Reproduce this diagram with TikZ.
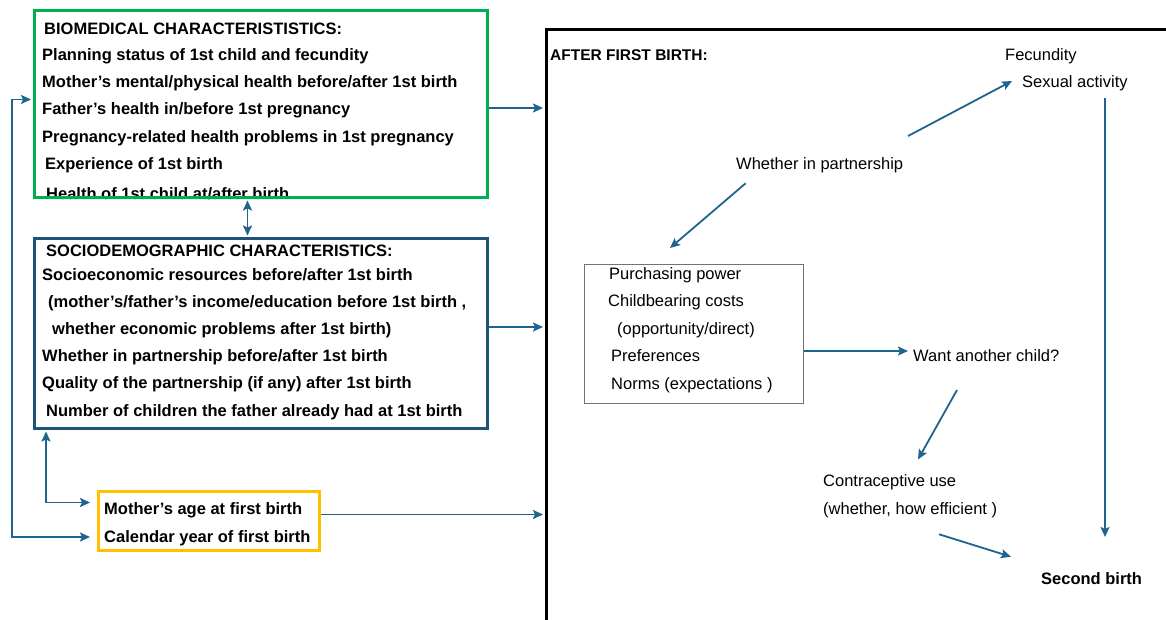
\documentclass[tikz,border=0pt]{standalone}
\usepackage{fontspec}
\setmainfont{Liberation Sans}
\usetikzlibrary{arrows.meta}
\definecolor{bgreen}{RGB}{0,176,80}
\definecolor{sblue}{RGB}{31,84,120}
\definecolor{ayel}{RGB}{255,192,0}
\definecolor{arrblue}{RGB}{31,100,140}
\begin{document}
\begin{tikzpicture}[x=1pt,y=-1pt,
  txt/.style={font=\fontsize{16.5}{19}\selectfont, inner sep=0pt, anchor=mid west, yshift=-4pt},
  btxt/.style={font=\fontsize{16.5}{19}\selectfont\bfseries, inner sep=0pt, anchor=mid west, yshift=-4pt},
  tip/.tip={Stealth[length=10pt,width=9pt,inset=2pt]},
  arr/.style={draw=arrblue, line width=1.8pt, -tip},
  arrb/.style={draw=arrblue, line width=1.8pt, tip-tip},
  frame/.style={line width=3pt, inner sep=0pt, anchor=north west}]
\useasboundingbox (0,0) rectangle (1166,619);
\clip (0,0) rectangle (1166,619);
\fill[white] (0,0) rectangle (1166,619);

% biomedical texts
\node[btxt] (b0) at (44,28) {BIOMEDICAL CHARACTERISTISTICS:};
\node[btxt] (b1) at (42,54) {Planning status of 1st  child and fecundity};
\node[btxt] (b2) at (42,81) {Mother’s mental/physical health before/after 1st birth};
\node[btxt] (b3) at (42,108) {Father’s health in/before 1st pregnancy};
\node[btxt] (b4) at (42,136) {Pregnancy-related health problems in 1st  pregnancy};
\node[btxt] (b5) at (45,163) {Experience of 1st birth};
\node[btxt] (b6) at (46,193) {Health of 1st child at/after birth};
\node[frame, draw=bgreen, minimum width=453pt, minimum height=187pt] (bio) at (33,9) {};

% sociodemographic texts
\node[btxt] (s0) at (46,250) {SOCIODEMOGRAPHIC CHARACTERISTICS:};
\node[btxt] (s1) at (42,274) {Socioeconomic resources before/after 1st birth};
\node[btxt] (s2) at (48,301) {(mother’s/father’s income/education before 1st birth ,};
\node[btxt] (s3) at (52,328) {whether economic problems after 1st birth)};
\node[btxt] (s4) at (42,355) {Whether in partnership  before/after 1st birth};
\node[btxt] (s5) at (42,382) {Quality of the partnership (if any) after 1st birth};
\node[btxt] (s6) at (46,410) {Number of children the father already had at 1st birth};
\node[frame, draw=sblue, minimum width=453pt, minimum height=190pt] (soc) at (33,237) {};

% yellow box
\node[btxt] (y1) at (104,508) {Mother’s age at first birth};
\node[btxt] (y2) at (104,536) {Calendar year of first birth};
\node[frame, draw=ayel, minimum width=221pt, minimum height=59pt] (yel) at (97,490) {};

% after first birth frame
\node[frame, draw=black, minimum width=700pt, minimum height=700pt] (after) at (545,28) {};
\node[btxt, font=\fontsize{15.5}{18}\selectfont\bfseries] (aft) at (550,54) {AFTER FIRST BIRTH:};

\node[txt] (fec) at (1005,54) {Fecundity};
\node[txt] (sex) at (1022,81) {Sexual activity};
\node[txt] (wp) at (736,163) {Whether in partnership};
\node[inner sep=0pt, anchor=north west, draw=black!55, line width=0.8pt, minimum width=219pt, minimum height=139pt] (pp) at (584,264) {};
\node[txt] (p1) at (609,273) {Purchasing power};
\node[txt] (p2) at (608,300) {Childbearing costs};
\node[txt] (p3) at (617,328) {(opportunity/direct)};
\node[txt] (p4) at (611,355) {Preferences};
\node[txt] (p5) at (611,383) {Norms (expectations )};
\node[txt] (want) at (913,355) {Want another child?};
\node[txt] (c1) at (823,480) {Contraceptive use};
\node[txt] (c2) at (823,508) {(whether, how efficient )};
\node[btxt] (sec) at (1041,578) {Second birth};

% left side connectors
\coordinate (g1) at (486,108);
\draw[arr, shorten >=2pt] (bio.east |- g1) -- (after.west |- g1);
\coordinate (g2) at (486,327);
\draw[arr, shorten >=2pt] (soc.east |- g2) -- (after.west |- g2);
\coordinate (ym) at ([yshift=6.5pt]yel.east);
\draw[arr, shorten >=2pt] (ym) -- (after.west |- ym);
\coordinate (lb) at (12,537);
\draw[arrb, shorten <=2pt, shorten >=7pt] ([yshift=4.5pt]bio.west) -| (lb) -- (yel.west |- lb);
\draw[arrb, shorten <=1.5pt, shorten >=7pt] ([xshift=13pt]soc.south west) |- ([yshift=18.5pt]yel.west);
\draw[arrb, shorten <=1.5pt, shorten >=1.5pt] ([xshift=-13.5pt]bio.south) -- ([xshift=-13.5pt]soc.north);

% right side connectors
\coordinate (w1) at (908,136);
\coordinate (e1) at (1012,81);
\draw[arr] (w1) -- (e1);
\draw[arr] ([xshift=-74pt,yshift=-10pt]wp.south) -- ([xshift=86pt,yshift=16pt]pp.north west);
\draw[arr, shorten >=5pt] (pp.east |- 0,351) -- (want.west |- 0,351);
\draw[arr] ([xshift=44pt,yshift=-28pt]want.south west) -- ([xshift=95pt,yshift=15pt]c1.north west);
\draw[arr] ([xshift=116pt,yshift=-16pt]c2.south west) -- ([xshift=-30pt,yshift=22pt]sec.west);
\coordinate (vs) at (1105,98);
\draw[arr] (vs) -- (vs |- 0,537);
\end{tikzpicture}
\end{document}
